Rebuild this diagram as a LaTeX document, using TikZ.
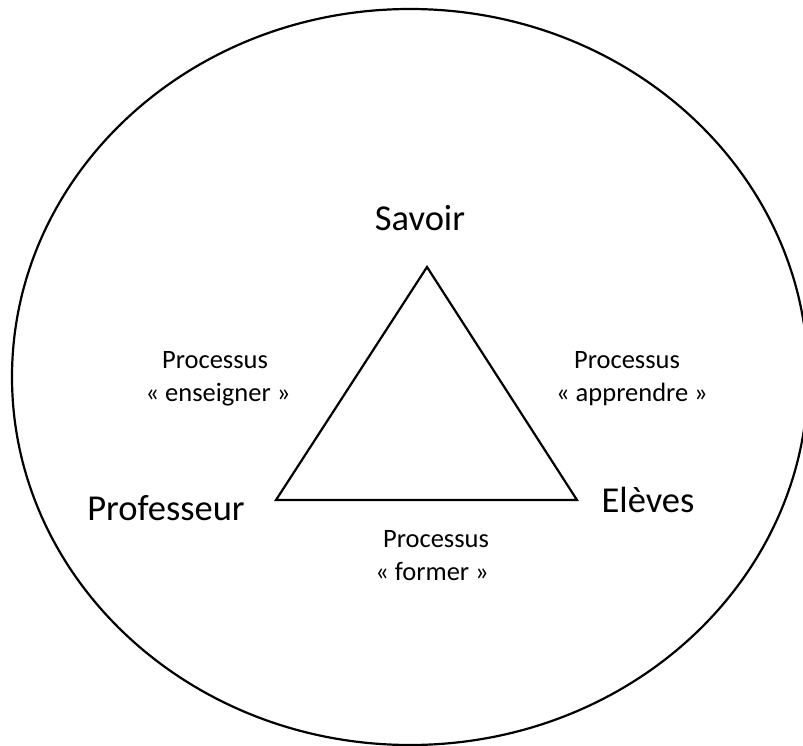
\documentclass[tikz,border=0pt]{standalone}
\usepackage{fontspec}
\setmainfont{Carlito}
\begin{document}
\begin{tikzpicture}[x=1pt,y=-1pt,
  big/.style={font=\fontsize{36.5}{40}\selectfont, anchor=base, inner sep=0pt},
  small/.style={font=\fontsize{26.5}{33}\selectfont, anchor=base, inner sep=0pt, align=center},
  edge/.style={line width=2.2pt, line join=miter}]
\useasboundingbox (0,0) rectangle (803,746);
\draw[line width=2.2pt] (410,377) ellipse [x radius=398, y radius=368];
\coordinate (S) at (427,267);
\coordinate (P) at (276,500);
\coordinate (E) at (577,500);
\draw[edge] (S) -- (P) -- (E) -- cycle;
\node[big] (savoir) at (420,230) {Savoir};
\node[big] (prof) at (166,520) {Professeur};
\node[big] (eleves) at (648,512) {Elèves};
\node[small] (ens1) at (215,368) {Processus};
\node[small] (ens2) at (218,401) {«~enseigner~»};
\node[small] (app1) at (627,368) {Processus};
\node[small] (app2) at (632,401) {«~apprendre~»};
\node[small] (for1) at (436,547) {Processus};
\node[small] (for2) at (432,580) {«~former~»};
\end{tikzpicture}
\end{document}
